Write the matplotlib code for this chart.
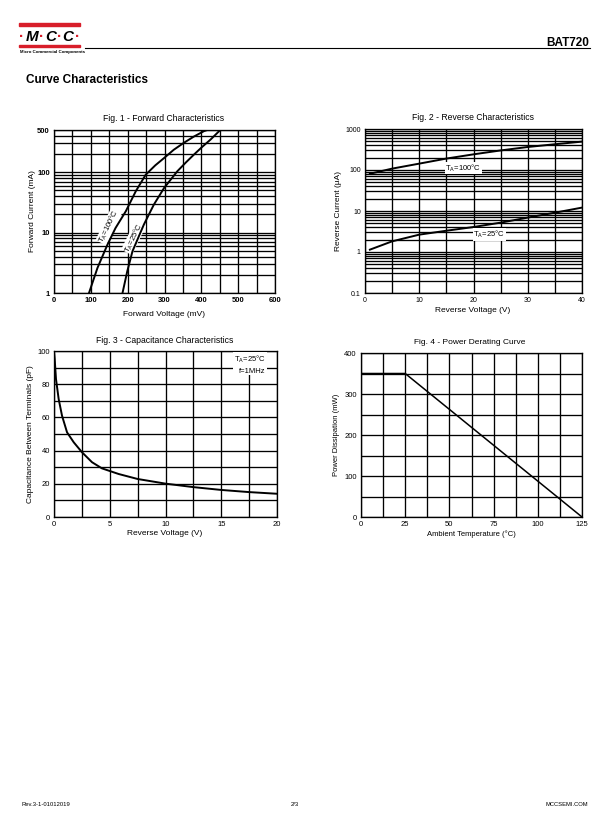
import matplotlib
matplotlib.use("Agg")
import matplotlib.pyplot as plt
from matplotlib.patches import Rectangle
from matplotlib.ticker import FixedLocator, NullFormatter
import numpy as np

plt.rcParams['font.family'] = ['Liberation Sans', 'DejaVu Sans']
plt.rcParams['mathtext.fontset'] = 'custom'
plt.rcParams['mathtext.rm'] = 'Liberation Sans'

# Fig. 1 - forward characteristics (mV, mA)
vf_100 = [95, 118, 145, 167, 195, 222, 249, 275, 299, 325, 353, 380, 407, 416]
if_100 = [1, 2.6, 6.3, 11.9, 22.6, 48.4, 91, 130, 172, 235, 308, 390, 478, 500]
vf_25 = [186, 199, 213, 244, 271, 299, 335, 358, 380, 403, 425, 450]
if_25 = [1, 2.3, 4.9, 13.6, 29, 55, 104, 145, 196, 265, 347, 490]

# Fig. 2 - reverse characteristics (V, uA)
vr_rev = [0.9, 5, 10, 15, 20, 25, 30, 35, 40]
ir_100 = [81, 108, 143, 190, 241, 300, 364, 425, 492]
ir_25 = [1.14, 1.82, 2.65, 3.3, 4.07, 5.2, 6.9, 9.1, 12.1]

# Fig. 3 - capacitance (V, pF)
vr_cap = [0.02, 0.06, 0.18, 0.42, 0.72, 1.17, 1.77, 2.51, 3.41, 4.3, 5.8, 7.5, 10, 12.5, 15, 17.5, 20]
cap = [98, 95.2, 83, 71, 61, 51, 45, 39, 33, 29.3, 25.9, 22.9, 20.1, 18, 16.3, 15, 14]

# Fig. 4 - power derating (degC, mW)
temp = [0, 25, 125]
power = [350, 350, 0]

W, H = 612, 825
fig = plt.figure(figsize=(W / 100, H / 100), dpi=100)


def px_axes(l, t, r, b):
    return fig.add_axes([l / W, 1 - b / H, (r - l) / W, (b - t) / H])


def ftext(x, y, s, **kw):
    fig.text(x / W, 1 - y / H, s, **kw)


def style(ax):
    ax.tick_params(which='both', length=0, labelsize=5.5, pad=3)
    ax.grid(True, which='both', color='black', lw=0.95)
    for sp in ax.spines.values():
        sp.set_linewidth(0.95)
    ax.set_axisbelow(True)


# header
fig.patches.append(Rectangle((19 / W, 1 - 26 / H), 61 / W, 2.5 / H, color='#d81e2a', transform=fig.transFigure))
fig.patches.append(Rectangle((19 / W, 1 - 47 / H), 61 / W, 2 / H, color='#d81e2a', transform=fig.transFigure))
for x, ch in [(32, 'M'), (51, 'C'), (68, 'C')]:
    ftext(x, 41, ch, fontsize=11, fontweight='bold', fontstyle='italic', ha='center')
for x in [22, 42, 60, 78]:
    ftext(x, 41, '·', fontsize=11, fontweight='bold', color='#d81e2a', ha='center')
ftext(20, 53, 'Micro Commercial Components', fontsize=3.2, fontweight='bold')
fig.lines.append(plt.Line2D([85 / W, 590 / W], [1 - 48 / H, 1 - 48 / H], color='black', lw=0.8, transform=fig.transFigure))
ftext(589, 46, 'BAT720', fontsize=8.5, fontweight='bold', ha='right')
ftext(26, 83, 'Curve Characteristics', fontsize=8.5, fontweight='bold')

# Fig. 1
ax1 = px_axes(54, 130, 275, 293)
ax1.set_yscale('log')
ax1.set_xlim(0, 600)
ax1.set_ylim(1, 500)
ax1.plot(vf_100, if_100, color='black', lw=1.4, zorder=4)
ax1.plot(vf_25, if_25, color='black', lw=1.4, zorder=4)
ax1.xaxis.set_major_locator(FixedLocator(range(0, 601, 100)))
ax1.xaxis.set_minor_locator(FixedLocator(range(50, 600, 100)))
ax1.yaxis.set_major_locator(FixedLocator([1, 10, 100, 500]))
ax1.yaxis.set_major_formatter(plt.FuncFormatter(lambda v, p: '%d' % v))
ax1.yaxis.set_minor_locator(FixedLocator([m * d for d in [1, 10, 100] for m in range(2, 10) if m * d < 500]))
ax1.yaxis.set_minor_formatter(NullFormatter())
style(ax1)
for lab in ax1.get_xticklabels() + ax1.get_yticklabels():
    lab.set_fontweight('bold')
# labels sit just left of the curves, over the grid
ax1.text(149, 12.7, r'T$_{\rm A}$=100°C', rotation=64, fontsize=5.5, ha='center', va='center', zorder=3,
         bbox=dict(fc='white', ec='none', pad=0.2))
ax1.text(216, 8.2, r'T$_{\rm A}$=25°C', rotation=64, fontsize=5.5, ha='center', va='center', zorder=3,
         bbox=dict(fc='white', ec='none', pad=0.2))
ftext(164, 121, 'Fig. 1 - Forward Characteristics', fontsize=6.2, ha='center')
ftext(164, 316, 'Forward Voltage (mV)', fontsize=6, ha='center')
ftext(32, 211, 'Forward Current (mA)', fontsize=6, ha='center', va='center', rotation=90)

# Fig. 2
ax2 = px_axes(365, 129, 582, 293)
ax2.set_yscale('log')
ax2.set_xlim(0, 40)
ax2.set_ylim(0.1, 1000)
ax2.plot(vr_rev, ir_100, color='black', lw=1.4)
ax2.plot(vr_rev, ir_25, color='black', lw=1.4)
ax2.xaxis.set_major_locator(FixedLocator(range(0, 41, 10)))
ax2.xaxis.set_minor_locator(FixedLocator(range(5, 40, 10)))
ax2.yaxis.set_major_locator(FixedLocator([0.1, 1, 10, 100, 1000]))
ax2.yaxis.set_major_formatter(plt.FuncFormatter(lambda v, p: '%g' % v))
ax2.yaxis.set_minor_locator(FixedLocator([m * d for d in [0.1, 1, 10, 100] for m in range(2, 10)]))
ax2.yaxis.set_minor_formatter(NullFormatter())
style(ax2)
ax2.tick_params(labelsize=5)
ax2.text(18.1, 112, r'T$_{\rm A}$=100°C', fontsize=5.5, ha='center', va='center',
         bbox=dict(fc='white', ec='none', pad=0.5))
ax2.text(22.9, 2.7, r'T$_{\rm A}$=25°C', fontsize=5.5, ha='center', va='center',
         bbox=dict(fc='white', ec='none', pad=0.5))
ftext(473, 120, 'Fig. 2 - Reverse Characteristics', fontsize=6.2, ha='center')
ftext(473, 312, 'Reverse Voltage (V)', fontsize=6, ha='center')
ftext(338, 211, 'Reverse Current (µA)', fontsize=6, ha='center', va='center', rotation=90)

# Fig. 3
ax3 = px_axes(54, 351, 277, 517)
ax3.set_xlim(0, 20)
ax3.set_ylim(0, 100)
ax3.plot(vr_cap, cap, color='black', lw=1.4)
ax3.xaxis.set_major_locator(FixedLocator(range(0, 21, 5)))
ax3.xaxis.set_minor_locator(FixedLocator([2.5, 7.5, 12.5, 17.5]))
ax3.yaxis.set_major_locator(FixedLocator(range(0, 101, 20)))
ax3.yaxis.set_minor_locator(FixedLocator(range(10, 100, 20)))
style(ax3)
ax3.text(19.0, 92, 'T$_{\\rm A}$=25°C\nf=1MHz', fontsize=5.5, ha='right', va='center', linespacing=1.5,
         bbox=dict(fc='white', ec='none', pad=0.5))
ftext(165, 343, 'Fig. 3 - Capacitance Characteristics', fontsize=6.2, ha='center')
ftext(165, 535, 'Reverse Voltage (V)', fontsize=6, ha='center')
ftext(31, 434, 'Capacitance Between Terminals (pF)', fontsize=6, ha='center', va='center', rotation=90)

# Fig. 4
ax4 = px_axes(361, 353, 582, 517)
ax4.set_xlim(0, 125)
ax4.set_ylim(0, 400)
ax4.plot(temp, power, color='black', lw=1.1)
ax4.xaxis.set_major_locator(FixedLocator(range(0, 126, 25)))
ax4.xaxis.set_minor_locator(FixedLocator(np.arange(12.5, 125, 25)))
ax4.yaxis.set_major_locator(FixedLocator(range(0, 401, 100)))
ax4.yaxis.set_minor_locator(FixedLocator(range(50, 400, 100)))
style(ax4)
ftext(470, 344, 'Fig. 4 - Power Derating Curve', fontsize=6, ha='center')
ftext(471, 536, 'Ambient Temperature (°C)', fontsize=5.5, ha='center')
ftext(336, 435, 'Power Dissipation (mW)', fontsize=5.5, ha='center', va='center', rotation=90)

# footer
ftext(22, 806, 'Rev.3-1-01012019', fontsize=4.2)
ftext(295, 806, '2/3', fontsize=4.2, ha='center')
ftext(588, 806, 'MCCSEMI.COM', fontsize=4.2, ha='right')

fig.savefig('out.png', dpi=100)
